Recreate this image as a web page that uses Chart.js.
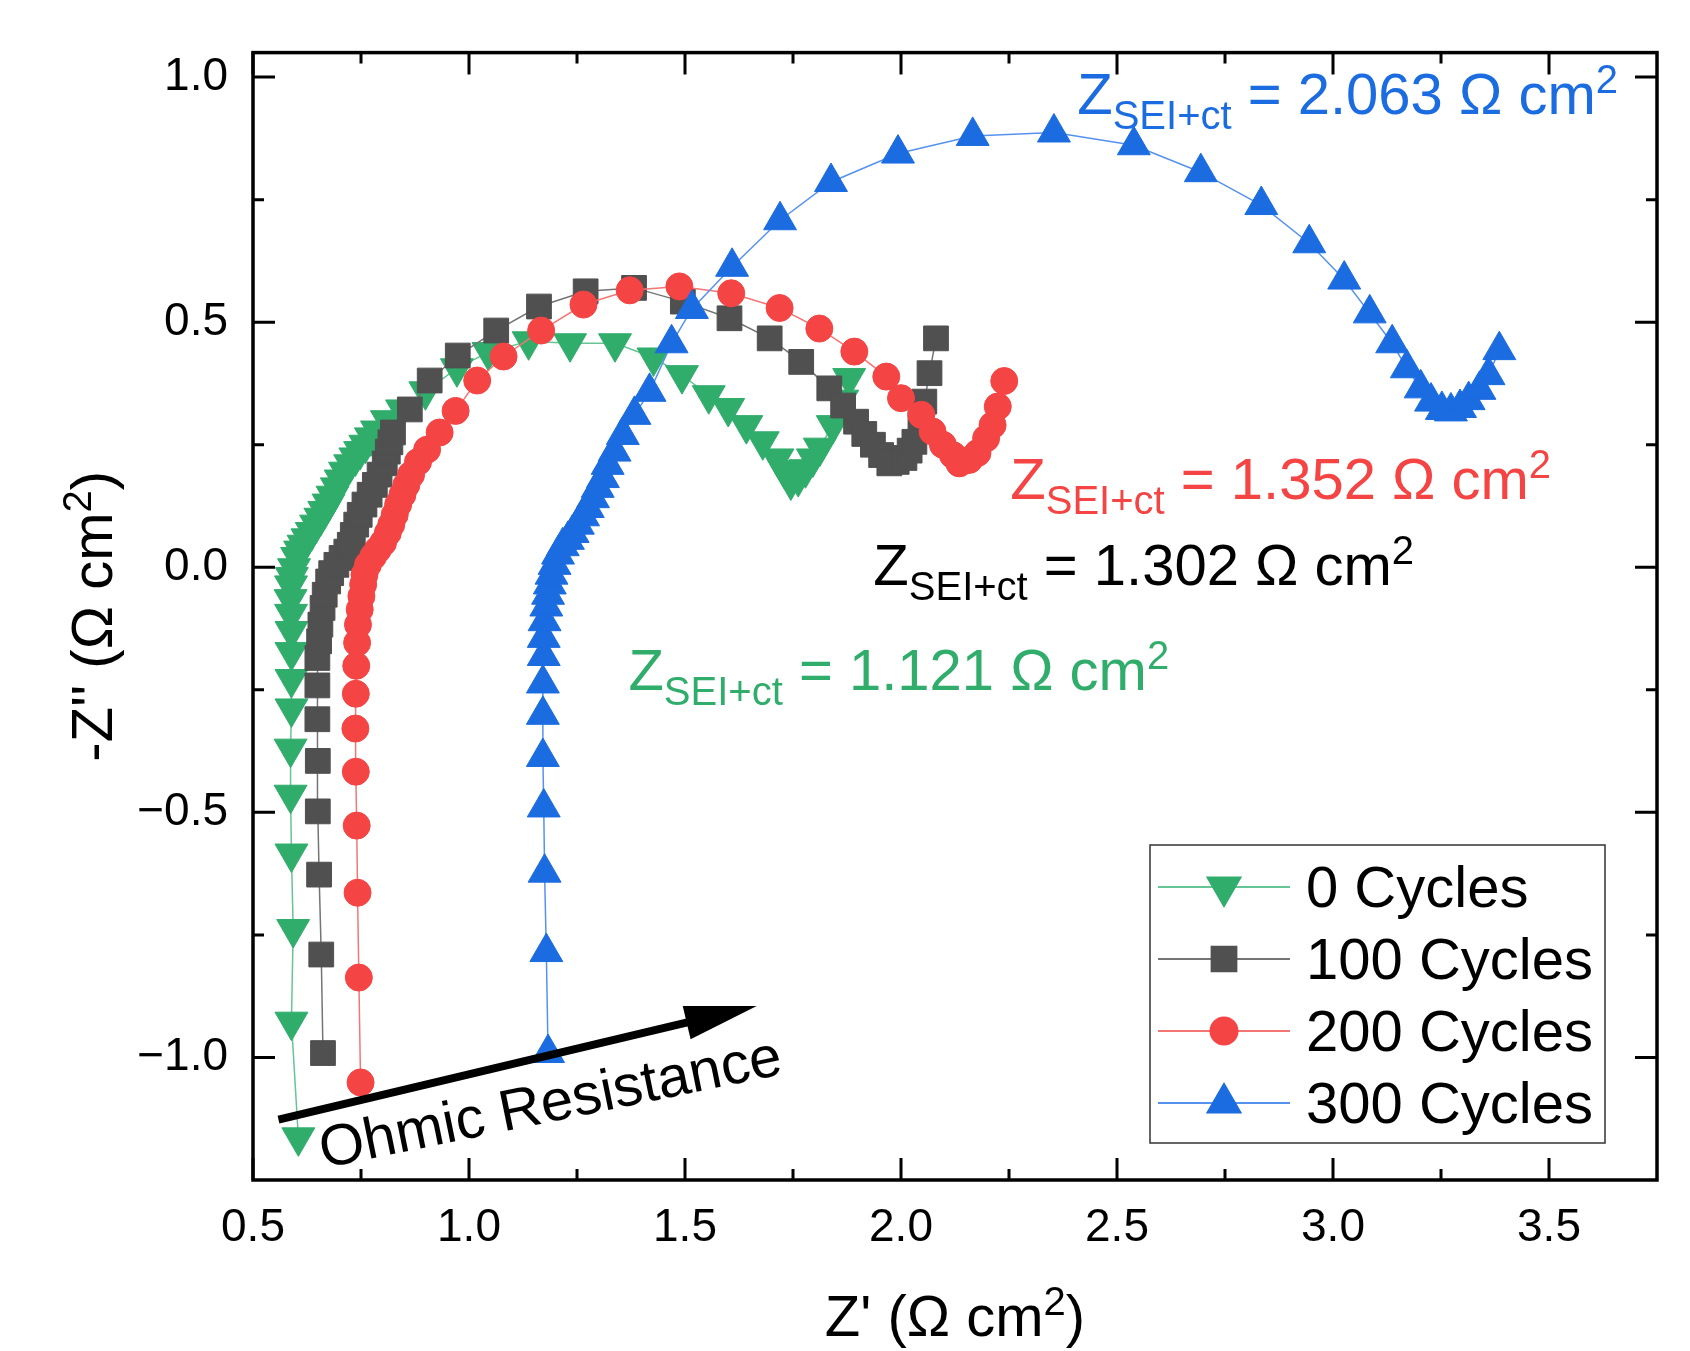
<!DOCTYPE html>
<html>
<head>
<meta charset="utf-8">
<script src="https://cdn.jsdelivr.net/npm/chart.js@4.4.0/dist/chart.umd.min.js"></script>
<style>
  html, body { margin: 0; padding: 0; background: #fff; }
</style>
</head>
<body>
<canvas id="Plot" width="1690" height="1351"></canvas>
<script>
var FONT = '"Liberation Sans", Arial, Helvetica, sans-serif';

// series: Z' and -Z'' in ohm cm2
var names = ['0 Cycles', '100 Cycles', '200 Cycles', '300 Cycles'];

var re0 = [0.605,0.589,0.593,0.589,0.587,0.587,0.589,0.589,0.589,0.589,0.588,0.587,0.588,0.590,0.595,0.602,0.609,0.617,0.626,0.636,0.646,0.656,0.665,0.675,0.684,0.694,0.703,0.713,0.725,0.737,0.748,0.760,0.773,0.787,0.810,0.845,0.899,0.972,1.045,1.138,1.234,1.338,1.427,1.493,1.555,1.600,1.642,1.680,1.714,1.730,1.745,1.762,1.779,1.796,1.812,1.842,1.864,1.880];
var im0 = [-1.163,-0.927,-0.738,-0.584,-0.464,-0.370,-0.288,-0.228,-0.173,-0.130,-0.095,-0.065,-0.037,-0.020,-0.002,0.021,0.034,0.046,0.059,0.072,0.087,0.101,0.115,0.130,0.146,0.163,0.179,0.195,0.210,0.224,0.237,0.250,0.265,0.279,0.300,0.322,0.359,0.406,0.439,0.461,0.457,0.457,0.428,0.392,0.351,0.325,0.290,0.257,0.222,0.198,0.175,0.182,0.200,0.222,0.244,0.290,0.342,0.386];

var re1 = [0.662,0.658,0.653,0.650,0.650,0.649,0.649,0.649,0.653,0.656,0.661,0.666,0.674,0.681,0.693,0.705,0.716,0.724,0.731,0.739,0.747,0.758,0.770,0.782,0.793,0.805,0.812,0.818,0.824,0.863,0.909,0.974,1.063,1.162,1.270,1.382,1.495,1.603,1.696,1.769,1.834,1.866,1.896,1.915,1.935,1.954,1.973,1.990,2.008,2.020,2.031,2.045,2.054,2.066,2.081];
var im1 = [-0.991,-0.790,-0.627,-0.498,-0.395,-0.310,-0.241,-0.185,-0.151,-0.117,-0.083,-0.056,-0.029,-0.012,0.005,0.019,0.032,0.046,0.066,0.087,0.107,0.128,0.148,0.168,0.189,0.212,0.236,0.255,0.275,0.322,0.381,0.432,0.483,0.532,0.563,0.570,0.542,0.508,0.467,0.419,0.365,0.330,0.297,0.272,0.250,0.229,0.212,0.215,0.223,0.238,0.256,0.295,0.338,0.396,0.467];

var re2 = [0.749,0.745,0.742,0.740,0.738,0.737,0.738,0.739,0.741,0.743,0.747,0.751,0.755,0.758,0.766,0.778,0.789,0.801,0.812,0.820,0.828,0.836,0.846,0.855,0.866,0.882,0.903,0.932,0.969,1.019,1.080,1.167,1.265,1.372,1.487,1.607,1.719,1.811,1.892,1.966,2.000,2.047,2.073,2.097,2.120,2.135,2.158,2.177,2.197,2.212,2.224,2.239];
var im2 = [-1.051,-0.837,-0.664,-0.527,-0.417,-0.329,-0.258,-0.201,-0.154,-0.117,-0.086,-0.059,-0.035,-0.015,0.005,0.022,0.036,0.050,0.070,0.087,0.107,0.128,0.148,0.168,0.189,0.215,0.240,0.275,0.319,0.381,0.430,0.483,0.536,0.565,0.573,0.559,0.529,0.487,0.440,0.389,0.345,0.311,0.277,0.250,0.229,0.212,0.219,0.233,0.263,0.290,0.328,0.380];

var re3 = [1.183,1.179,1.175,1.173,1.171,1.171,1.171,1.173,1.173,1.175,1.179,1.183,1.187,1.191,1.198,1.206,1.217,1.229,1.240,1.252,1.264,1.275,1.287,1.298,1.310,1.321,1.337,1.356,1.383,1.418,1.469,1.516,1.609,1.720,1.838,1.993,2.166,2.354,2.539,2.694,2.834,2.945,3.026,3.085,3.137,3.171,3.203,3.227,3.252,3.273,3.294,3.314,3.339,3.360,3.385];
var im3 = [-0.991,-0.785,-0.623,-0.490,-0.387,-0.301,-0.237,-0.181,-0.144,-0.110,-0.080,-0.056,-0.035,-0.015,0.005,0.026,0.043,0.056,0.070,0.087,0.104,0.121,0.141,0.162,0.182,0.209,0.236,0.270,0.311,0.358,0.457,0.527,0.613,0.708,0.786,0.844,0.880,0.887,0.861,0.806,0.739,0.661,0.587,0.518,0.457,0.406,0.365,0.338,0.321,0.318,0.325,0.341,0.362,0.392,0.443];

var xMajor = [0.5, 1.0, 1.5, 2.0, 2.5, 3.0, 3.5];
var xMinor = [0.75, 1.25, 1.75, 2.25, 2.75, 3.25];
var yMajor = [-1.0, -0.5, 0.0, 0.5, 1.0];
var yMinor = [-0.75, -0.25, 0.25, 0.75];

// Z(SEI+ct) values written on the plot, and where they sit (data units, left / baseline)
var zValues = ['2.063', '1.352', '1.302', '1.121'];
var zAt = [[2.408, 0.925], [2.253, 0.139], [1.936, -0.036], [1.369, -0.250]];

var markColor = ['#30ad6b', '#505050', '#f44444', '#1b6ce0'];
var lineColor = ['#66c495', '#747474', '#f57575', '#5592ee'];
var zColor = ['#1b6ce0', '#f44444', '#000000', '#30ad6b'];
var styles = [
  {pointStyle: 'triangle', rotation: 180, radius: 19},
  {pointStyle: 'rect', rotation: 0, radius: 17.5},
  {pointStyle: 'circle', rotation: 0, radius: 13.5},
  {pointStyle: 'triangle', rotation: 0, radius: 19}
];

function pairs(xs, ys) {
  var arr = [];
  for (var i = 0; i < xs.length; i++) arr.push({x: xs[i], y: ys[i]});
  return arr;
}

function series(i, xs, ys) {
  return {
    label: names[i],
    data: pairs(xs, ys),
    showLine: true,
    tension: 0,
    borderColor: lineColor[i],
    borderWidth: 1.5,
    pointStyle: styles[i].pointStyle,
    pointRotation: styles[i].rotation,
    pointRadius: styles[i].radius,
    pointHoverRadius: styles[i].radius,
    pointBackgroundColor: markColor[i],
    pointBorderColor: markColor[i],
    pointBorderWidth: 1,
    order: 4 - i
  };
}

function fmt(v) {
  return Number(v).toFixed(1).replace('-', '\u2212');
}

function rich(c, parts, x, y, align, color) {
  var w = 0;
  parts.forEach(function(p) { c.font = p[1] + 'px ' + FONT; w += c.measureText(p[0]).width; });
  var cx = align === 'center' ? x - w / 2 : x;
  c.fillStyle = color;
  c.textAlign = 'left';
  c.textBaseline = 'alphabetic';
  parts.forEach(function(p) {
    c.font = p[1] + 'px ' + FONT;
    c.fillText(p[0], cx, y + (p[2] || 0));
    cx += c.measureText(p[0]).width;
  });
}

function marker(c, i, x, y) {
  c.fillStyle = markColor[i];
  c.strokeStyle = markColor[i];
  if (Chart.helpers && Chart.helpers.drawPoint) {
    Chart.helpers.drawPoint(c, {pointStyle: styles[i].pointStyle, rotation: styles[i].rotation,
      radius: styles[i].radius, borderWidth: 1}, x, y);
  } else {
    c.beginPath(); c.arc(x, y, 13, 0, Math.PI * 2); c.fill();
  }
}

var framePlugin = {
  id: 'frame',
  afterDatasetsDraw: function(chart) {
    var c = chart.ctx, a = chart.chartArea, xs = chart.scales.x, ys = chart.scales.y;
    c.save();
    c.strokeStyle = '#000';
    c.lineWidth = 3;
    c.beginPath();
    function tx(v, len) {
      var p = xs.getPixelForValue(v);
      c.moveTo(p, a.bottom); c.lineTo(p, a.bottom - len);
      c.moveTo(p, a.top); c.lineTo(p, a.top + len);
    }
    function ty(v, len) {
      var p = ys.getPixelForValue(v);
      c.moveTo(a.left, p); c.lineTo(a.left + len, p);
      c.moveTo(a.right, p); c.lineTo(a.right - len, p);
    }
    xMajor.forEach(function(v) { tx(v, 22); });
    xMinor.forEach(function(v) { tx(v, 11); });
    yMajor.forEach(function(v) { ty(v, 22); });
    yMinor.forEach(function(v) { ty(v, 11); });
    c.stroke();
    c.lineWidth = 3.5;
    c.strokeRect(a.left, a.top, a.right - a.left, a.bottom - a.top);
    c.restore();
  }
};

var notePlugin = {
  id: 'notes',
  afterDraw: function(chart) {
    var c = chart.ctx, a = chart.chartArea, xs = chart.scales.x, ys = chart.scales.y;
    c.save();
    // Z(SEI+ct) labels
    for (var i = 0; i < zValues.length; i++) {
      rich(c, [['Z', 58], ['SEI+ct', 40, 15], [' = ' + zValues[i] + ' \u03A9 cm', 58], ['2', 40, -21]],
        xs.getPixelForValue(zAt[i][0]), ys.getPixelForValue(zAt[i][1]), 'left', zColor[i]);
    }
    // ohmic resistance arrow
    var x0 = xs.getPixelForValue(0.559), y0 = ys.getPixelForValue(-1.127);
    var x1 = xs.getPixelForValue(1.666), y1 = ys.getPixelForValue(-0.895);
    var ang = Math.atan2(y1 - y0, x1 - x0);
    var head = 72, half = 17;
    c.strokeStyle = '#000';
    c.fillStyle = '#000';
    c.lineWidth = 8;
    c.beginPath();
    c.moveTo(x0, y0);
    c.lineTo(x1 - Math.cos(ang) * (head - 4), y1 - Math.sin(ang) * (head - 4));
    c.stroke();
    c.beginPath();
    c.moveTo(x1, y1);
    c.lineTo(x1 - Math.cos(ang) * head + Math.sin(ang) * half, y1 - Math.sin(ang) * head - Math.cos(ang) * half);
    c.lineTo(x1 - Math.cos(ang) * head - Math.sin(ang) * half, y1 - Math.sin(ang) * head + Math.cos(ang) * half);
    c.closePath();
    c.fill();
    c.translate(xs.getPixelForValue(0.663), ys.getPixelForValue(-1.226));
    c.rotate(ang + 1.8 * Math.PI / 180);
    c.font = '58px ' + FONT;
    c.textAlign = 'left';
    c.textBaseline = 'alphabetic';
    c.fillText('Ohmic Resistance', 0, 0);
    c.restore();

    // axis titles
    c.save();
    rich(c, [["Z' (\u03A9 cm", 58], ['2', 40, -21], [')', 58]], (a.left + a.right) / 2, 1336, 'center', '#000');
    c.translate(112, (a.top + a.bottom) / 2);
    c.rotate(-Math.PI / 2);
    rich(c, [["-Z'' (\u03A9 cm", 58], ['2', 40, -21], [')', 58]], 0, 0, 'center', '#000');
    c.restore();

    // legend
    c.save();
    var lx = 1150, ly = 845, lw = 455, lh = 298;
    c.fillStyle = '#fff';
    c.fillRect(lx, ly, lw, lh);
    c.strokeStyle = '#333';
    c.lineWidth = 1.5;
    c.strokeRect(lx, ly, lw, lh);
    for (var k = 0; k < names.length; k++) {
      var ry = 887 + k * 72;
      c.strokeStyle = lineColor[k];
      c.lineWidth = 2;
      c.beginPath(); c.moveTo(1158, ry); c.lineTo(1290, ry); c.stroke();
      marker(c, k, 1224, ry);
      c.fillStyle = '#000';
      c.font = '58px ' + FONT;
      c.textAlign = 'left';
      c.textBaseline = 'alphabetic';
      c.fillText(names[k], 1306, ry + 20);
    }
    c.restore();
  }
};

var ctx = document.getElementById('Plot').getContext('2d');
var myChart = new Chart(ctx, {
  type: 'scatter',
  data: {
    datasets: [
      series(0, re0, im0),
      series(1, re1, im1),
      series(2, re2, im2),
      series(3, re3, im3)
    ]
  },
  options: {
    responsive: false,
    animation: false,
    devicePixelRatio: 1,
    layout: {padding: {top: 47, right: 33, left: 0, bottom: 0}},
    plugins: {legend: {display: false}, tooltip: {enabled: false}},
    scales: {
      x: {
        type: 'linear', position: 'bottom', min: 0.5, max: 3.75,
        grid: {display: false, drawTicks: false},
        border: {display: false},
        ticks: {font: {family: FONT, size: 46}, color: '#000', padding: 21, maxRotation: 0, autoSkip: false, callback: fmt},
        afterBuildTicks: function(s) { s.ticks = xMajor.map(function(v) { return {value: v}; }); },
        afterFit: function(s) { s.height = 171; }
      },
      y: {
        type: 'linear', position: 'left', min: -1.25, max: 1.05,
        grid: {display: false, drawTicks: false},
        border: {display: false},
        ticks: {font: {family: FONT, size: 46}, color: '#000', padding: 25, autoSkip: false, callback: fmt},
        afterBuildTicks: function(s) { s.ticks = yMajor.map(function(v) { return {value: v}; }); },
        afterFit: function(s) { s.width = 253; }
      }
    }
  },
  plugins: [framePlugin, notePlugin]
});
</script>
</body>
</html>
